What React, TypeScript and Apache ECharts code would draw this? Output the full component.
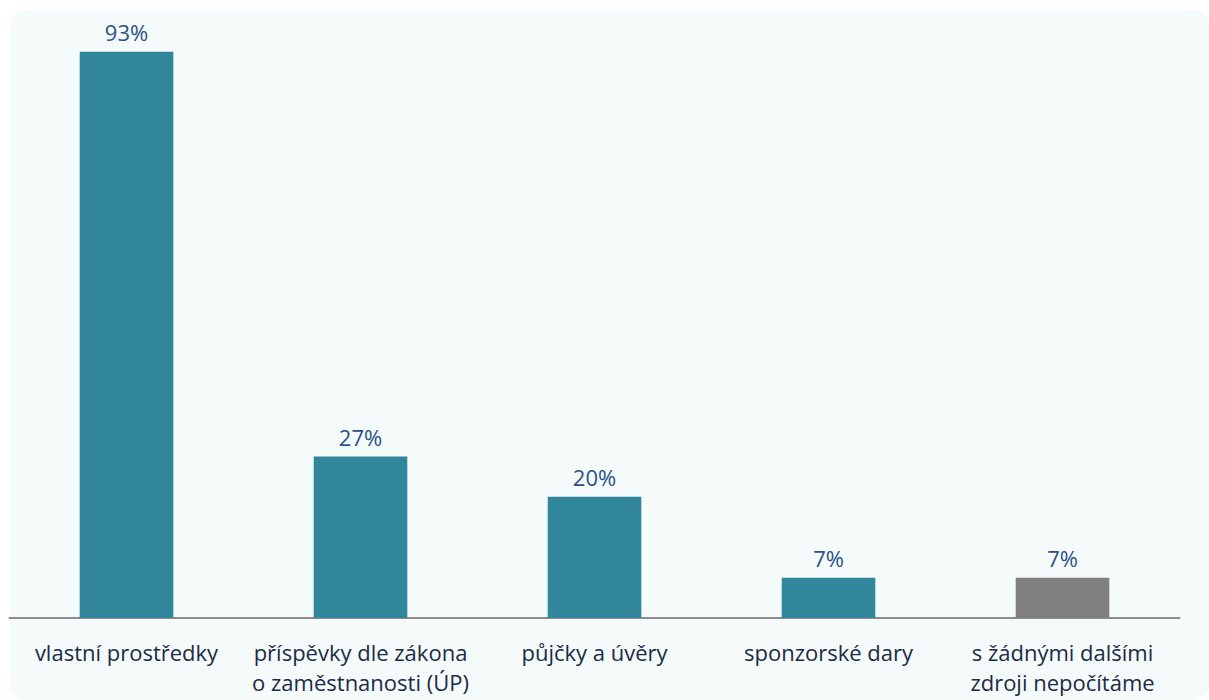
import React, { useEffect, useRef } from "react";
import * as echarts from "echarts";

const categories = [
  "vlastní prostředky",
  "příspěvky dle zákona\no zaměstnanosti (ÚP)",
  "půjčky a úvěry",
  "sponzorské dary",
  "s žádnými dalšími\nzdroji nepočítáme",
];
const values = [93, 26.5, 19.9, 6.6, 6.6];
const barColors = ["#31869b", "#31869b", "#31869b", "#31869b", "#808080"];

export default function App() {
  const ref = useRef<HTMLDivElement>(null);
  useEffect(() => {
    document.body.style.margin = "0";
    const chart = echarts.init(ref.current!, null, { renderer: "svg" });
    chart.setOption({
      animation: false,
      backgroundColor: "transparent",
      grid: { left: 9.5, right: 29.5, top: 9, bottom: 82, containLabel: false },
      xAxis: {
        type: "category",
        data: categories,
        axisLine: { show: true, lineStyle: { color: "#8c8c8c", width: 2 } },
        axisTick: { show: false },
        axisLabel: {
          interval: 0,
          margin: 19,
          color: "#1b2b45",
          fontFamily: "Open Sans",
          fontSize: 22,
          lineHeight: 30,
        },
      },
      yAxis: {
        type: "value",
        min: 0,
        max: 100,
        show: false,
        splitLine: { show: false },
      },
      series: [
        {
          type: "bar",
          barWidth: "40%",
          data: values.map((v, i) => ({ value: v, itemStyle: { color: barColors[i] } })),
          label: {
            show: true,
            position: "top",
            distance: 9,
            color: "#2b5287",
            fontFamily: "Open Sans",
            fontSize: 22,
            formatter: (p: any) => Math.round(p.value) + "%",
          },
        },
      ],
    });
    return () => chart.dispose();
  }, []);
  return (
    <div style={{ position: "relative", width: 1209, height: 700, background: "#ffffff", overflow: "hidden" }}>
      <div
        style={{
          position: "absolute",
          left: 10,
          top: 10,
          width: 1199,
          height: 690,
          background: "#f5fafb",
          borderRadius: 16,
        }}
      />
      <div ref={ref} style={{ position: "absolute", left: 0, top: 0, width: 1209, height: 700 }} />
    </div>
  );
}
